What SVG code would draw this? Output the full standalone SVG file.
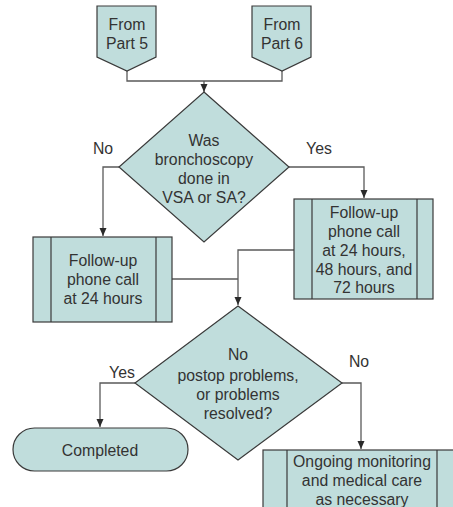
<svg xmlns="http://www.w3.org/2000/svg" width="453" height="507" viewBox="0 0 453 507">
  <defs>
    <marker id="arrow" viewBox="0 0 8 8" refX="8" refY="4" markerWidth="8" markerHeight="8" markerUnits="userSpaceOnUse" orient="auto">
      <path d="M0,0.5 L8,4 L0,7.5 Z" fill="#2a2a2a"/>
    </marker>
  </defs>
  <style>
    .shape { fill: #c0dddc; stroke: #3a3a3a; stroke-width: 1.2; }
    .inner { fill: none; stroke: #3a3a3a; stroke-width: 1.2; }
    .conn { fill: none; stroke: #5a5a5a; stroke-width: 1.3; }
    text { font-family: "Liberation Sans", Arial, sans-serif; font-size: 15.8px; fill: #333333; text-anchor: middle; }
  </style>
  <rect width="453" height="507" fill="#ffffff"/>

  <!-- connectors -->
  <g id="connectors">
    <polyline class="conn" points="127,71 127,81 282,81 282,71"/>
    <line class="conn" x1="204" y1="81" x2="204" y2="92" marker-end="url(#arrow)"/>
    <polyline class="conn" points="119,167 103,167 103,236" marker-end="url(#arrow)"/>
    <polyline class="conn" points="289,167 364,167 364,198" marker-end="url(#arrow)"/>
    <polyline class="conn" points="294,250 238,250 238,305" marker-end="url(#arrow)"/>
    <line class="conn" x1="172" y1="279" x2="238" y2="279"/>
    <polyline class="conn" points="135,383 100,383 100,427" marker-end="url(#arrow)"/>
    <polyline class="conn" points="342,383 361,383 361,449" marker-end="url(#arrow)"/>
  </g>

  <!-- off-page connectors -->
  <g id="from-part5">
    <polygon class="shape" points="97,6 156,6 156,57 127,71 97,57"/>
    <text x="127" y="30">From</text>
    <text x="127" y="49">Part 5</text>
  </g>
  <g id="from-part6">
    <polygon class="shape" points="252,6 311,6 311,57 282,71 252,57"/>
    <text x="282" y="30">From</text>
    <text x="282" y="49">Part 6</text>
  </g>

  <!-- first decision -->
  <g id="decision-anesthesia">
    <polygon class="shape" points="204,92 289,167 204,242 119,167"/>
    <text x="204" y="146">Was</text>
    <text x="204" y="165">bronchoscopy</text>
    <text x="204" y="184">done in</text>
    <text x="204" y="203">VSA or SA?</text>
  </g>
  <g id="label-no-1"><text x="103" y="154">No</text></g>
  <g id="label-yes-1"><text x="319" y="154">Yes</text></g>

  <!-- follow-up processes -->
  <g id="followup-24">
    <rect class="shape" x="33" y="237" width="139" height="85"/>
    <line class="inner" x1="51" y1="237" x2="51" y2="322"/>
    <line class="inner" x1="156" y1="237" x2="156" y2="322"/>
    <text x="103" y="266">Follow-up</text>
    <text x="103" y="285">phone call</text>
    <text x="103" y="304">at 24 hours</text>
  </g>
  <g id="followup-72">
    <rect class="shape" x="294" y="199" width="139" height="100"/>
    <line class="inner" x1="312" y1="199" x2="312" y2="299"/>
    <line class="inner" x1="417" y1="199" x2="417" y2="299"/>
    <text x="364" y="218">Follow-up</text>
    <text x="364" y="237">phone call</text>
    <text x="364" y="256">at 24 hours,</text>
    <text x="364" y="274.5">48 hours, and</text>
    <text x="364" y="293">72 hours</text>
  </g>

  <!-- second decision -->
  <g id="decision-problems">
    <polygon class="shape" points="238,306 342,383 238,460 135,383"/>
    <text x="238" y="360">No</text>
    <text x="238" y="381">postop problems,</text>
    <text x="238" y="400">or problems</text>
    <text x="238" y="419">resolved?</text>
  </g>
  <g id="label-yes-2"><text x="122" y="378">Yes</text></g>
  <g id="label-no-2"><text x="359" y="367">No</text></g>

  <!-- outcomes -->
  <g id="completed">
    <rect class="shape" x="13" y="428" width="175" height="43" rx="21.5" ry="21.5"/>
    <text x="100" y="456">Completed</text>
  </g>
  <g id="ongoing-care">
    <rect class="shape" x="263" y="450" width="200" height="70"/>
    <line class="inner" x1="287" y1="450" x2="287" y2="520"/>
    <line class="inner" x1="437" y1="450" x2="437" y2="520"/>
    <text x="362" y="467">Ongoing monitoring</text>
    <text x="362" y="486">and medical care</text>
    <text x="362" y="505">as necessary</text>
  </g>
</svg>
